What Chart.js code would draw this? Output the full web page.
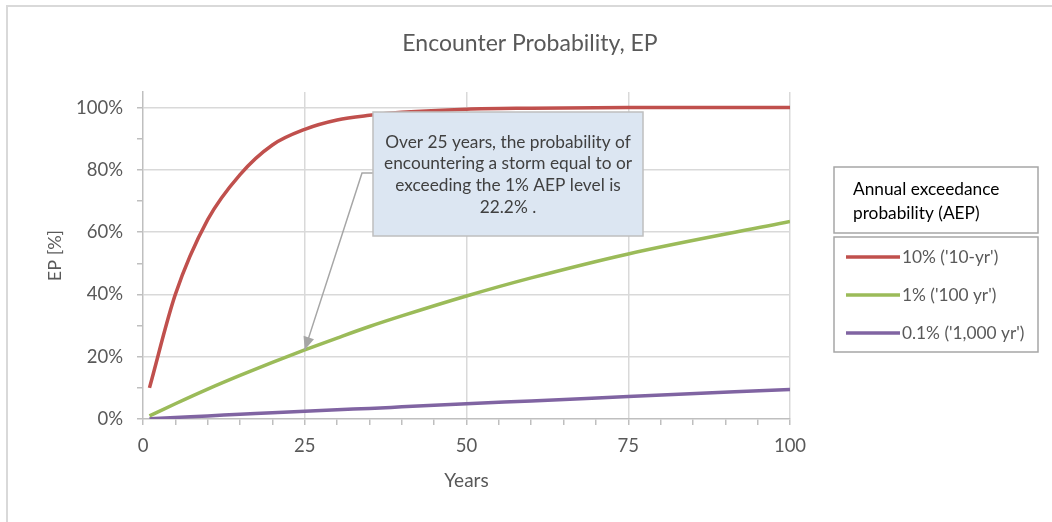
<!DOCTYPE html>
<html>
<head>
<meta charset="utf-8">
<title>Encounter Probability, EP</title>
<script src="https://cdn.jsdelivr.net/npm/chart.js@4.4.1/dist/chart.umd.min.js"></script>
<style>
  html, body { margin: 0; padding: 0; background: #fff; }
  #wrap { position: relative; width: 1052px; height: 522px; }
</style>
</head>
<body>
<div id="wrap"><canvas id="epChart"></canvas></div>
<script>
// data
const years = [1, 5, 10, 15, 20, 25, 30, 35, 40, 50, 60, 75, 100];
const ep10yr = [10, 40, 64, 78.5, 88, 93, 96, 97.5, 98.5, 99.5, 99.8, 100, 100];
const ep100yr = [1, 4.9, 9.6, 14, 18.2, 22.2, 26, 29.7, 33.1, 39.5, 45.3, 53, 63.4];
const ep1000yr = [0.1, 0.5, 1, 1.5, 2, 2.5, 3, 3.4, 3.9, 4.9, 5.8, 7.2, 9.5];

const seriesLabels = ["10% ('10-yr')", "1% ('100 yr')", "0.1% ('1,000 yr')"];
const seriesColors = ['#c0504d', '#9bbb59', '#8064a2'];

const xLabelTicks = [0, 25, 50, 75, 100];
const xMinorTicks = [0, 5, 10, 15, 20, 25, 30, 35, 40, 45, 50, 55, 60, 65, 70, 75, 80, 85, 90, 95, 100];
const yLabelTicks = [0, 20, 40, 60, 80, 100];
const yMinorTicks = [0, 10, 20, 30, 40, 50, 60, 70, 80, 90, 100];

const chartTitle = 'Encounter Probability, EP';
const legendTitle = ['Annual exceedance', 'probability (AEP)'];
const calloutLines = ['Over 25 years, the probability of', 'encountering a storm equal to or', 'exceeding the 1% AEP level is', '22.2% .'];
const calloutPoint = { x: 25, y: 22.2 };

const FONT = 'Lato, "Open Sans", sans-serif';
const toPoints = vals => vals.map((v, i) => ({ x: years[i], y: v }));

// frame, title, callout and legend boxes
const decor = {
  id: 'decor',
  beforeDraw(chart) {
    const c = chart.ctx;
    c.save();
    c.strokeStyle = '#d9d9d9';
    c.lineWidth = 2;
    c.beginPath();
    c.moveTo(7, 530); c.lineTo(7, 6); c.lineTo(1060, 6);
    c.stroke();
    c.fillStyle = '#595959';
    c.font = '23px ' + FONT;
    c.textAlign = 'center';
    c.textBaseline = 'middle';
    c.fillText(chartTitle, 530, 44);
    c.restore();
  },
  afterDraw(chart) {
    const c = chart.ctx;
    const xs = chart.scales.x, ys = chart.scales.y;
    c.save();

    // arrow to the 25 year point
    const tipX = xs.getPixelForValue(calloutPoint.x);
    const tipY = ys.getPixelForValue(calloutPoint.y);
    const bendX = 362, bendY = 173;
    c.strokeStyle = '#a6a6a6';
    c.fillStyle = '#a6a6a6';
    c.lineWidth = 1.5;
    c.beginPath();
    c.moveTo(374, bendY); c.lineTo(bendX, bendY); c.lineTo(tipX, tipY);
    c.stroke();
    const ang = Math.atan2(tipY - bendY, tipX - bendX);
    const len = 13, half = 5.5;
    c.beginPath();
    c.moveTo(tipX, tipY);
    c.lineTo(tipX - len * Math.cos(ang) + half * Math.sin(ang), tipY - len * Math.sin(ang) - half * Math.cos(ang));
    c.lineTo(tipX - len * Math.cos(ang) - half * Math.sin(ang), tipY - len * Math.sin(ang) + half * Math.cos(ang));
    c.closePath();
    c.fill();

    // callout box
    c.fillStyle = '#dce6f2';
    c.fillRect(373, 112, 270, 124);
    c.strokeStyle = '#bfbfbf';
    c.lineWidth = 1.5;
    c.strokeRect(373, 112, 270, 124);
    c.fillStyle = '#404040';
    c.font = '17.3px ' + FONT;
    c.textAlign = 'center';
    c.textBaseline = 'middle';
    calloutLines.forEach((t, i) => c.fillText(t, 508, 142 + i * 21.8));

    // legend title box
    c.strokeStyle = '#a6a6a6';
    c.lineWidth = 1.5;
    c.strokeRect(834, 167, 204, 66);
    c.fillStyle = '#000';
    c.font = '17.3px ' + FONT;
    c.textAlign = 'left';
    legendTitle.forEach((t, i) => c.fillText(t, 853, 189 + i * 24));

    // legend entries
    c.strokeRect(834, 237, 204, 115);
    chart.data.datasets.forEach((ds, i) => {
      const y = 257 + i * 38;
      c.strokeStyle = ds.borderColor;
      c.lineWidth = 3.5;
      c.beginPath(); c.moveTo(846, y); c.lineTo(900, y); c.stroke();
      c.fillStyle = '#595959';
      c.fillText(ds.label, 902, y);
    });
    c.restore();
  }
};

new Chart(document.getElementById('epChart'), {
  type: 'line',
  data: {
    datasets: [
      { label: seriesLabels[0], data: toPoints(ep10yr), borderColor: seriesColors[0] },
      { label: seriesLabels[1], data: toPoints(ep100yr), borderColor: seriesColors[1] },
      { label: seriesLabels[2], data: toPoints(ep1000yr), borderColor: seriesColors[2] }
    ]
  },
  options: {
    responsive: true,
    maintainAspectRatio: false,
    animation: false,
    layout: { padding: { top: 92, right: 262, bottom: 0, left: 0 } },
    elements: {
      line: { borderWidth: 3.5, cubicInterpolationMode: 'monotone', fill: false },
      point: { radius: 0 }
    },
    plugins: {
      legend: { display: false },
      title: { display: false },
      tooltip: { enabled: false }
    },
    scales: {
      x: {
        type: 'linear',
        min: 0, max: 100,
        afterBuildTicks: s => { s.ticks = xMinorTicks.map(v => ({ value: v })); },
        afterFit: s => { s.height = 103; },
        ticks: {
          autoSkip: false, maxRotation: 0, padding: 10,
          color: '#595959', font: { family: FONT, size: 18.5 },
          callback: v => xLabelTicks.includes(v) ? String(v) : ''
        },
        grid: {
          color: ctx => (ctx.tick && xLabelTicks.includes(ctx.tick.value) && ctx.tick.value !== 0) ? '#d9d9d9' : 'rgba(0,0,0,0)',
          tickColor: '#bfbfbf', tickLength: 6, lineWidth: 1.5
        },
        border: { color: '#bfbfbf', width: 1.5 },
        title: {
          display: true, text: 'Years', color: '#595959',
          font: { family: FONT, size: 19 }, padding: { top: 0, bottom: 30 }
        }
      },
      y: {
        min: 0, max: 105,
        afterBuildTicks: s => { s.ticks = yMinorTicks.map(v => ({ value: v })); },
        afterFit: s => { s.width = 143; },
        ticks: {
          autoSkip: false, padding: 14,
          color: '#595959', font: { family: FONT, size: 18.5 },
          callback: v => yLabelTicks.includes(v) ? v + '%' : ''
        },
        grid: {
          color: ctx => (ctx.tick && yLabelTicks.includes(ctx.tick.value) && ctx.tick.value !== 0) ? '#d9d9d9' : 'rgba(0,0,0,0)',
          tickColor: '#bfbfbf', tickLength: 6, lineWidth: 1.5
        },
        border: { color: '#bfbfbf', width: 1.5 },
        title: {
          display: true, text: 'EP [%]', color: '#595959',
          font: { family: FONT, size: 18 }, padding: { top: 44, bottom: 0 }
        }
      }
    }
  },
  plugins: [decor]
});
</script>
</body>
</html>
